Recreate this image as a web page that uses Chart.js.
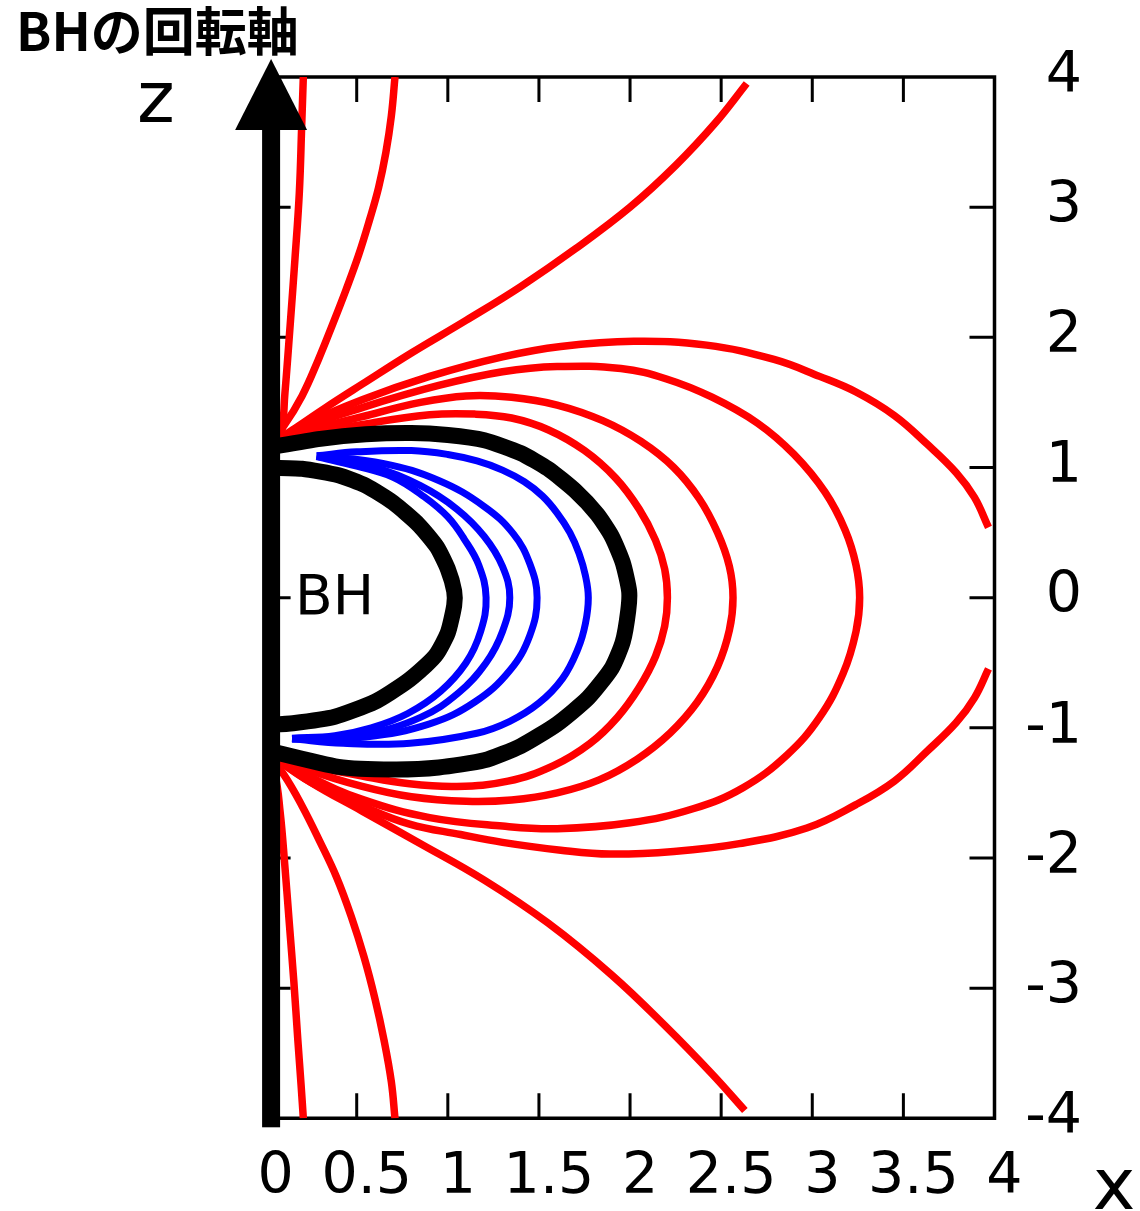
<!DOCTYPE html>
<html>
<head>
<meta charset="utf-8">
<script src="https://cdn.jsdelivr.net/npm/chart.js@4.4.1/dist/chart.umd.min.js"></script>
<style>
  html, body { margin: 0; padding: 0; background: #fff; }
  canvas { display: block; }
</style>
</head>
<body>
<canvas id="fieldChart" width="1140" height="1211"></canvas>
<script>
// axis ticks
const xTicks = [0, 0.5, 1, 1.5, 2, 2.5, 3, 3.5, 4];
const xTickLabels = ['0', '0.5', '1', '1.5', '2', '2.5', '3', '3.5', '4'];
const zTicks = [-4, -3, -2, -1, 0, 1, 2, 3, 4];
const zTickLabels = ['-4', '-3', '-2', '-1', '0', '1', '2', '3', '4'];

// open field lines leaving the top of the hole [x, z]
const openTop1 = [[0, 1.15], [0.04, 1.18], [0.083, 1.24], [0.106, 1.57], [0.134, 2.08], [0.161, 2.6], [0.185, 3.11], [0.198, 3.62], [0.207, 4.0]];
const openTop2 = [[0, 1.15], [0.1, 1.32], [0.2, 1.55], [0.29, 1.83], [0.365, 2.09], [0.44, 2.36], [0.51, 2.63], [0.57, 2.9], [0.62, 3.15], [0.66, 3.42], [0.69, 3.7], [0.71, 4.0]];
const openTop3 = [[0, 1.15], [0.15, 1.29], [0.33, 1.46], [0.53, 1.64], [0.8, 1.88], [1.1, 2.13], [1.4, 2.39], [1.7, 2.68], [2.0, 3.0], [2.25, 3.32], [2.47, 3.65], [2.64, 3.95]];

// open field lines leaving the bottom
const openBot1 = [[0, -1.18], [0.05, -1.35], [0.08, -1.65], [0.105, -2.05], [0.13, -2.5], [0.155, -2.95], [0.177, -3.4], [0.195, -3.75], [0.207, -4.0]];
const openBot2 = [[0, -1.18], [0.1, -1.36], [0.2, -1.6], [0.3, -1.88], [0.39, -2.15], [0.47, -2.45], [0.54, -2.76], [0.6, -3.08], [0.65, -3.4], [0.69, -3.72], [0.71, -4.0]];
const openBot3 = [[0, -1.18], [0.25, -1.42], [0.53, -1.64], [0.85, -1.89], [1.2, -2.17], [1.55, -2.5], [1.9, -2.9], [2.2, -3.3], [2.45, -3.66], [2.63, -3.94]];

// wide arcs that run out through the right edge
const wideTop = [[0, 1.15], [0.2, 1.32], [0.53, 1.52], [0.9, 1.7], [1.3, 1.85], [1.62, 1.93], [2.02, 1.97], [2.42, 1.94], [2.79, 1.83], [3.04, 1.7], [3.24, 1.58], [3.45, 1.4], [3.63, 1.18], [3.79, 0.96], [3.89, 0.77], [3.967, 0.54]];
const wideBot = [[0, -1.18], [0.25, -1.42], [0.53, -1.6], [0.79, -1.74], [1.07, -1.82], [1.3, -1.88], [1.62, -1.94], [1.89, -1.97], [2.24, -1.95], [2.6, -1.89], [2.97, -1.77], [3.24, -1.59], [3.45, -1.41], [3.63, -1.18], [3.79, -0.96], [3.89, -0.77], [3.967, -0.548]];

// closed red loops, pole to pole
const loop1 = [[0, 1.15], [0.2, 1.24], [0.53, 1.33], [0.9, 1.405], [1.15, 1.41], [1.35, 1.38], [1.55, 1.29], [1.75, 1.13], [1.92, 0.92], [2.05, 0.68], [2.14, 0.44], [2.19, 0.22], [2.205, 0], [2.19, -0.22], [2.14, -0.45], [2.05, -0.69], [1.93, -0.92], [1.78, -1.12], [1.58, -1.29], [1.33, -1.41], [1.05, -1.45], [0.79, -1.43], [0.53, -1.37], [0.25, -1.29], [0, -1.18]];
const loop2 = [[0, 1.15], [0.2, 1.27], [0.53, 1.39], [0.85, 1.5], [1.1, 1.55], [1.35, 1.54], [1.6, 1.48], [1.85, 1.36], [2.06, 1.2], [2.24, 1.0], [2.38, 0.76], [2.48, 0.5], [2.545, 0.24], [2.565, 0], [2.545, -0.25], [2.48, -0.53], [2.37, -0.8], [2.22, -1.04], [2.04, -1.24], [1.83, -1.4], [1.6, -1.5], [1.35, -1.555], [1.1, -1.565], [0.8, -1.53], [0.53, -1.45], [0.25, -1.33], [0, -1.18]];
const loop3 = [[0, 1.15], [0.2, 1.3], [0.53, 1.46], [0.95, 1.63], [1.3, 1.735], [1.6, 1.775], [1.95, 1.76], [2.2, 1.68], [2.45, 1.54], [2.7, 1.34], [2.9, 1.1], [3.07, 0.81], [3.18, 0.52], [3.24, 0.25], [3.26, 0], [3.24, -0.26], [3.17, -0.58], [3.04, -0.92], [2.86, -1.21], [2.62, -1.46], [2.35, -1.62], [2.0, -1.73], [1.6, -1.775], [1.3, -1.755], [0.9, -1.69], [0.53, -1.55], [0.25, -1.38], [0, -1.18]];

// blue loops between horizon and ergosphere
const inner1 = [[0.28, 1.084], [0.5, 1.01], [0.7, 0.925], [0.87, 0.775], [1.0, 0.62], [1.09, 0.45], [1.17, 0.25], [1.21, 0], [1.18, -0.26], [1.1, -0.5], [0.96, -0.72], [0.78, -0.89], [0.58, -1.0], [0.38, -1.06], [0.145, -1.08]];
const inner2 = [[0.28, 1.085], [0.6, 1.0], [0.85, 0.86], [1.05, 0.68], [1.2, 0.47], [1.3, 0.24], [1.34, 0], [1.3, -0.26], [1.21, -0.5], [1.06, -0.73], [0.85, -0.92], [0.55, -1.05], [0.3, -1.085], [0.145, -1.085]];
const inner3 = [[0.28, 1.09], [0.65, 1.03], [0.95, 0.9], [1.2, 0.7], [1.36, 0.49], [1.45, 0.26], [1.49, 0], [1.45, -0.29], [1.34, -0.56], [1.15, -0.8], [0.9, -0.97], [0.55, -1.07], [0.145, -1.085]];
const inner4 = [[0.28, 1.09], [0.5, 1.12], [0.8, 1.13], [1.0, 1.1], [1.16, 1.05], [1.3, 0.98], [1.42, 0.89], [1.52, 0.78], [1.6, 0.65], [1.67, 0.5], [1.72, 0.34], [1.755, 0.17], [1.771, 0], [1.755, -0.2], [1.715, -0.39], [1.63, -0.62], [1.5, -0.81], [1.34, -0.95], [1.159, -1.042], [0.793, -1.119], [0.426, -1.119], [0.145, -1.085]];

// horizon and ergosphere
const horizon = [[0, 1.0], [0.2, 0.99], [0.4, 0.94], [0.55, 0.86], [0.7, 0.73], [0.84, 0.56], [0.94, 0.39], [1.0, 0.22], [1.035, 0.05], [1.035, -0.06], [1.0, -0.27], [0.94, -0.43], [0.88, -0.52], [0.77, -0.65], [0.6, -0.8], [0.38, -0.915], [0.15, -0.965], [0, -0.98]];
const ergosphere = [[0, 1.15], [0.3, 1.22], [0.55, 1.255], [0.8, 1.265], [1.0, 1.25], [1.2, 1.21], [1.4, 1.11], [1.55, 0.99], [1.7, 0.82], [1.82, 0.64], [1.9, 0.47], [1.96, 0.27], [1.995, 0.05], [1.99, -0.1], [1.96, -0.34], [1.9, -0.54], [1.77, -0.77], [1.6, -0.97], [1.4, -1.14], [1.2, -1.25], [0.95, -1.305], [0.7, -1.32], [0.4, -1.3], [0, -1.17]];

const RED = '#ff0000';
const BLUE = '#0000ff';
const BLACK = '#000000';

function line(points, color, width, tension) {
  return {
    data: points.map(([x, y]) => ({ x, y })),
    borderColor: color,
    borderWidth: width,
    borderJoinStyle: 'round',
    pointRadius: 0,
    tension: tension,
    fill: false
  };
}

// first dataset ends up on top, so black goes first
const datasets = [
  line(horizon, BLACK, 16, 0.2),
  line(ergosphere, BLACK, 16, 0.2),
  line(inner1, BLUE, 7, 0.4),
  line(inner2, BLUE, 7, 0.4),
  line(inner3, BLUE, 7, 0.4),
  line(inner4, BLUE, 7, 0.4),
  line(loop1, RED, 7.5, 0.4),
  line(loop2, RED, 7.5, 0.4),
  line(loop3, RED, 7.5, 0.4),
  line(wideTop, RED, 7.5, 0.4),
  line(wideBot, RED, 7.5, 0.4),
  line(openTop1, RED, 7.5, 0.4),
  line(openTop2, RED, 7.5, 0.4),
  line(openTop3, RED, 7.5, 0.4),
  line(openBot1, RED, 7.5, 0.4),
  line(openBot2, RED, 7.5, 0.4),
  line(openBot3, RED, 7.5, 0.4)
];

const TICK_LEN = 25;
const digitFont = { family: 'DejaVu Sans', size: 57 };

// frame with inward ticks, drawn under the lines
const frame = {
  id: 'frame',
  beforeDatasetsDraw(chart) {
    const { ctx, chartArea: a, scales: { x, y } } = chart;
    ctx.save();
    ctx.strokeStyle = BLACK;
    ctx.lineWidth = 3.5;
    ctx.lineJoin = 'miter';
    ctx.beginPath();
    ctx.moveTo(a.left, a.top);
    ctx.lineTo(a.right, a.top);
    ctx.lineTo(a.right, a.bottom);
    ctx.lineTo(a.left, a.bottom);
    ctx.stroke();

    ctx.lineWidth = 3;
    ctx.beginPath();
    xTicks.slice(1, -1).forEach(v => {
      const px = x.getPixelForValue(v);
      ctx.moveTo(px, a.top); ctx.lineTo(px, a.top + TICK_LEN);
      ctx.moveTo(px, a.bottom); ctx.lineTo(px, a.bottom - TICK_LEN);
    });
    zTicks.slice(1, -1).forEach(v => {
      const py = y.getPixelForValue(v);
      ctx.moveTo(a.left, py); ctx.lineTo(a.left + TICK_LEN, py);
      ctx.moveTo(a.right, py); ctx.lineTo(a.right - TICK_LEN, py);
    });
    ctx.stroke();
    ctx.restore();
  },
  // spin axis with arrow head, plus the text labels
  afterDatasetsDraw(chart) {
    const { ctx, chartArea: a, scales: { x, y } } = chart;
    const ax = x.getPixelForValue(0) + 5.5;
    const tipY = a.top - 18;
    const baseY = a.top + 53;
    ctx.save();
    ctx.fillStyle = BLACK;
    ctx.fillRect(ax - 9, baseY - 1, 18, a.bottom + 9 - baseY + 1);
    ctx.beginPath();
    ctx.moveTo(ax, tipY);
    ctx.lineTo(ax + 36, baseY);
    ctx.lineTo(ax - 36, baseY);
    ctx.closePath();
    ctx.fill();

    ctx.textBaseline = 'alphabetic';
    ctx.textAlign = 'left';
    ctx.font = 'bold 52px "Noto Sans CJK JP"';
    ctx.fillText('BHの回転軸', 16, 51);

    ctx.textAlign = 'center';
    ctx.font = '72px "DejaVu Sans"';
    ctx.fillText('z', 156, 122);
    ctx.fillText('x', 1114, 1209);

    ctx.textAlign = 'left';
    ctx.font = '55px "DejaVu Sans"';
    ctx.fillText('BH', ax + 24, y.getPixelForValue(0) + 16);
    ctx.restore();
  }
};

// line type so the tension curves are applied
new Chart(document.getElementById('fieldChart'), {
  type: 'line',
  data: { datasets },
  options: {
    responsive: false,
    animation: false,
    events: [],
    layout: { padding: { left: 265.6, top: 77, right: 58, bottom: 0 } },
    plugins: { legend: { display: false }, tooltip: { enabled: false } },
    scales: {
      x: {
        type: 'linear',
        position: 'bottom',
        min: 0,
        max: 4,
        afterBuildTicks: s => { s.ticks = xTicks.map(v => ({ value: v })); },
        afterFit: s => { s.height = 92.7; },
        grid: { display: false, drawTicks: false },
        border: { display: false },
        ticks: {
          autoSkip: false,
          maxRotation: 0,
          padding: 26,
          labelOffset: 10,
          color: BLACK,
          font: digitFont,
          callback: v => xTickLabels[xTicks.indexOf(v)]
        }
      },
      y: {
        type: 'linear',
        position: 'right',
        min: -4,
        max: 4,
        afterBuildTicks: s => { s.ticks = zTicks.map(v => ({ value: v })); },
        afterFit: s => { s.width = 87.5; },
        grid: { display: false, drawTicks: false },
        border: { display: false },
        ticks: {
          autoSkip: false,
          padding: 31,
          crossAlign: 'far',
          color: BLACK,
          font: digitFont,
          callback: v => zTickLabels[zTicks.indexOf(v)]
        }
      }
    }
  },
  plugins: [frame]
});
</script>
</body>
</html>
